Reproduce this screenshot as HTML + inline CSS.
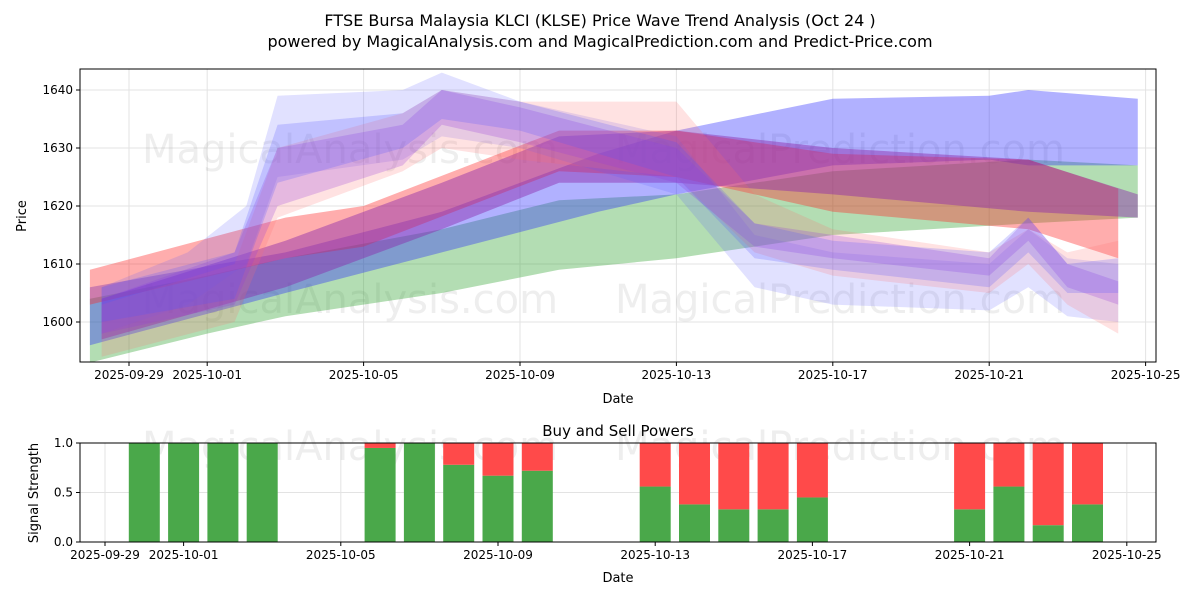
<!DOCTYPE html>
<html><head><meta charset="utf-8"><style>
body{margin:0;background:#fff;font-family:"Liberation Sans","DejaVu Sans",sans-serif;}
svg text{font-family:"DejaVu Sans","Liberation Sans",sans-serif;}
</style></head><body>
<svg id="chart" width="1200" height="600" xmlns="http://www.w3.org/2000/svg">
<rect width="1200" height="600" fill="#fff"/>
<text x="600" y="26" text-anchor="middle" font-size="16">FTSE Bursa Malaysia KLCI (KLSE) Price Wave Trend Analysis (Oct 24 )</text>
<text x="600" y="47" text-anchor="middle" font-size="16">powered by MagicalAnalysis.com and MagicalPrediction.com and Predict-Price.com</text>
<g id="topgrp"></g>
<g id="botgrp"></g>
</svg>
<script>
// ---- data ----
const bandNames = ['long-green','long-blue','long-red','long-purple','wave-lightblue','wave-pink','wave-purple','wave-blue'];
const bandColors = ['rgba(44,160,44,0.36)','rgba(40,40,255,0.36)','rgba(255,40,40,0.38)','rgba(140,40,170,0.45)','rgba(90,90,255,0.18)','rgba(255,110,110,0.2)','rgba(150,60,220,0.25)','rgba(80,80,255,0.22)'];
const bandDays = [
 [-1,2,4,8,11,14,18,23,25.8],
 [-1,4,8,12,14,18,22,23,25.8],
 [-1,4,6,11,14,18,23,25.3],
 [-0.7,4,8,11,14,18,23,25.8],
 [-0.7,1.5,3,3.8,7,8,10,14,16,18,22,23,24,25.3],
 [-0.7,2.7,3.8,7,8,10,14,16,18,22,23,24,25.3],
 [-0.7,2.7,3.8,7,8,10,14,16,18,22,23,24,25.3],
 [-0.7,2.7,3.8,7,8,10,14,16,18,22,23,24,25.3]
];
const bandLow = [
 [1593,1598,1601,1605,1609,1611,1615,1617,1618],
 [1596,1605,1612,1619,1622,1627,1628,1627,1627],
 [1603,1611,1613,1626,1625,1619,1616,1611],
 [1597,1606,1616,1624,1624,1622,1619,1618],
 [1598,1603,1610,1625,1628,1632,1630,1622,1606,1603,1602,1606,1601,1600],
 [1594,1600,1618,1626,1630,1628,1625,1612,1608,1605,1610,1603,1598],
 [1598,1603,1620,1627,1634,1631,1624,1613,1611,1608,1614,1606,1603],
 [1600,1604,1624,1630,1635,1633,1625,1611,1609,1606,1612,1605,1605]
];
const bandHigh = [
 [1604,1608,1611,1616,1621,1622,1626,1628,1627],
 [1606,1612,1619,1629,1633,1638.5,1639,1640,1638.5],
 [1609,1618,1620,1633,1633,1629,1628,1623],
 [1604,1614,1624,1632,1633,1630,1628,1622],
 [1606,1612,1620,1639,1640,1643,1638,1632,1615,1612,1610,1616,1611,1610],
 [1603,1610,1630,1636,1640,1638,1638,1622,1616,1612,1616,1612,1614],
 [1604,1612,1630,1634,1640,1637,1630,1617,1615,1611,1618,1610,1607],
 [1606,1612,1634,1636,1640,1638,1631,1617,1614,1612,1618,1610,1611]
];
const yTicks = [1600,1610,1620,1630,1640];
const xTickLabels = ['2025-09-29','2025-10-01','2025-10-05','2025-10-09','2025-10-13','2025-10-17','2025-10-21','2025-10-25'];
const xTickDays = [0,2,6,10,14,18,22,26];
const barDays = [1,2,3,4,7,8,9,10,11,14,15,16,17,18,22,23,24,25];
const buyVals = [1,1,1,1,0.95,1,0.78,0.67,0.72,0.56,0.38,0.33,0.33,0.45,0.33,0.56,0.17,0.38];
const sigTicks = [0,0.5,1.0];

const NS='http://www.w3.org/2000/svg';
function mk(tag,attrs,parent,txt){const e=document.createElementNS(NS,tag);for(const k in attrs)e.setAttribute(k,attrs[k]);if(txt!==undefined)e.textContent=txt;parent.appendChild(e);return e;}

// ---- top chart ----
const T={l:80,r:1156,t:69,b:362};
const xT=d=>129+d*39.1;
const yT=v=>322-(v-1600)*5.8;
const topG=document.getElementById('topgrp');
xTickDays.forEach(d=>{mk('line',{x1:xT(d),x2:xT(d),y1:T.t,y2:T.b,stroke:'#e3e3e3','stroke-width':1},topG);});
yTicks.forEach(v=>{mk('line',{x1:T.l,x2:T.r,y1:yT(v),y2:yT(v),stroke:'#e3e3e3','stroke-width':1},topG);});
mk('text',{x:350,y:163,'font-size':40,fill:'rgba(120,120,120,0.13)','text-anchor':'middle'},topG,'MagicalAnalysis.com');
mk('text',{x:840,y:163,'font-size':40,fill:'rgba(120,120,120,0.13)','text-anchor':'middle'},topG,'MagicalPrediction.com');
mk('text',{x:350,y:313,'font-size':40,fill:'rgba(120,120,120,0.13)','text-anchor':'middle'},topG,'MagicalAnalysis.com');
mk('text',{x:840,y:313,'font-size':40,fill:'rgba(120,120,120,0.13)','text-anchor':'middle'},topG,'MagicalPrediction.com');
bandNames.forEach((n,i)=>{
  const pts=[];
  bandDays[i].forEach((d,j)=>pts.push(xT(d)+','+yT(bandHigh[i][j])));
  for(let j=bandDays[i].length-1;j>=0;j--)pts.push(xT(bandDays[i][j])+','+yT(bandLow[i][j]));
  const p=mk('polygon',{points:pts.join(' '),fill:bandColors[i]},topG);
  
  
});
mk('rect',{x:T.l,y:T.t,width:T.r-T.l,height:T.b-T.t,fill:'none',stroke:'#000','stroke-width':1},topG);
yTicks.forEach(v=>{mk('line',{x1:T.l-4,x2:T.l,y1:yT(v),y2:yT(v),stroke:'#000'},topG);
  const t=mk('text',{x:T.l-7,y:yT(v)+4,'font-size':12,'text-anchor':'end'},topG,String(v));
  
  });
xTickDays.forEach((d,i)=>{mk('line',{x1:xT(d),x2:xT(d),y1:T.b,y2:T.b+4,stroke:'#000'},topG);
  const t=mk('text',{x:xT(d),y:T.b+17,'font-size':12,'text-anchor':'middle'},topG,xTickLabels[i]);
  
  });
mk('text',{x:618,y:403,'font-size':13,'text-anchor':'middle',},topG,'Date');
mk('text',{x:26,y:216,'font-size':13,'text-anchor':'middle',transform:'rotate(-90 26 216)',},topG,'Price');

// ---- bottom chart ----
const B={l:80,r:1156,t:443,b:542};
const xB=d=>105+d*39.3;
const yB=v=>542-v*99;
const botG=document.getElementById('botgrp');
mk('text',{x:618,y:436,'font-size':15,'text-anchor':'middle',},botG,'Buy and Sell Powers');
xTickDays.forEach(d=>{mk('line',{x1:xB(d),x2:xB(d),y1:B.t,y2:B.b,stroke:'#e3e3e3'},botG);});
sigTicks.forEach(v=>{mk('line',{x1:B.l,x2:B.r,y1:yB(v),y2:yB(v),stroke:'#e3e3e3'},botG);});
mk('text',{x:350,y:460,'font-size':40,fill:'rgba(120,120,120,0.13)','text-anchor':'middle'},botG,'MagicalAnalysis.com');
mk('text',{x:840,y:460,'font-size':40,fill:'rgba(120,120,120,0.13)','text-anchor':'middle'},botG,'MagicalPrediction.com');
barDays.forEach((d,i)=>{
  const x=xB(d)-15.5, w=31;
  const g=mk('rect',{x:x,y:yB(buyVals[i]),width:w,height:yB(0)-yB(buyVals[i]),fill:'#4aa84a'},botG);
  
  
  if(buyVals[i]<1){
    const r=mk('rect',{x:x,y:yB(1),width:w,height:yB(buyVals[i])-yB(1),fill:'#ff4a4a'},botG);
    
    
  }
});
mk('rect',{x:B.l,y:B.t,width:B.r-B.l,height:B.b-B.t,fill:'none',stroke:'#000'},botG);
sigTicks.forEach(v=>{mk('line',{x1:B.l-4,x2:B.l,y1:yB(v),y2:yB(v),stroke:'#000'},botG);
  const t=mk('text',{x:B.l-7,y:yB(v)+4,'font-size':12,'text-anchor':'end'},botG,v.toFixed(1));
  
  });
xTickDays.forEach((d,i)=>{mk('line',{x1:xB(d),x2:xB(d),y1:B.b,y2:B.b+4,stroke:'#000'},botG);
  const t=mk('text',{x:xB(d),y:B.b+17,'font-size':12,'text-anchor':'middle'},botG,xTickLabels[i]);
  
  });
mk('text',{x:618,y:582,'font-size':13,'text-anchor':'middle',},botG,'Date');
mk('text',{x:38,y:493,'font-size':13,'text-anchor':'middle',transform:'rotate(-90 38 493)',},botG,'Signal Strength');
</script>
</body></html>
